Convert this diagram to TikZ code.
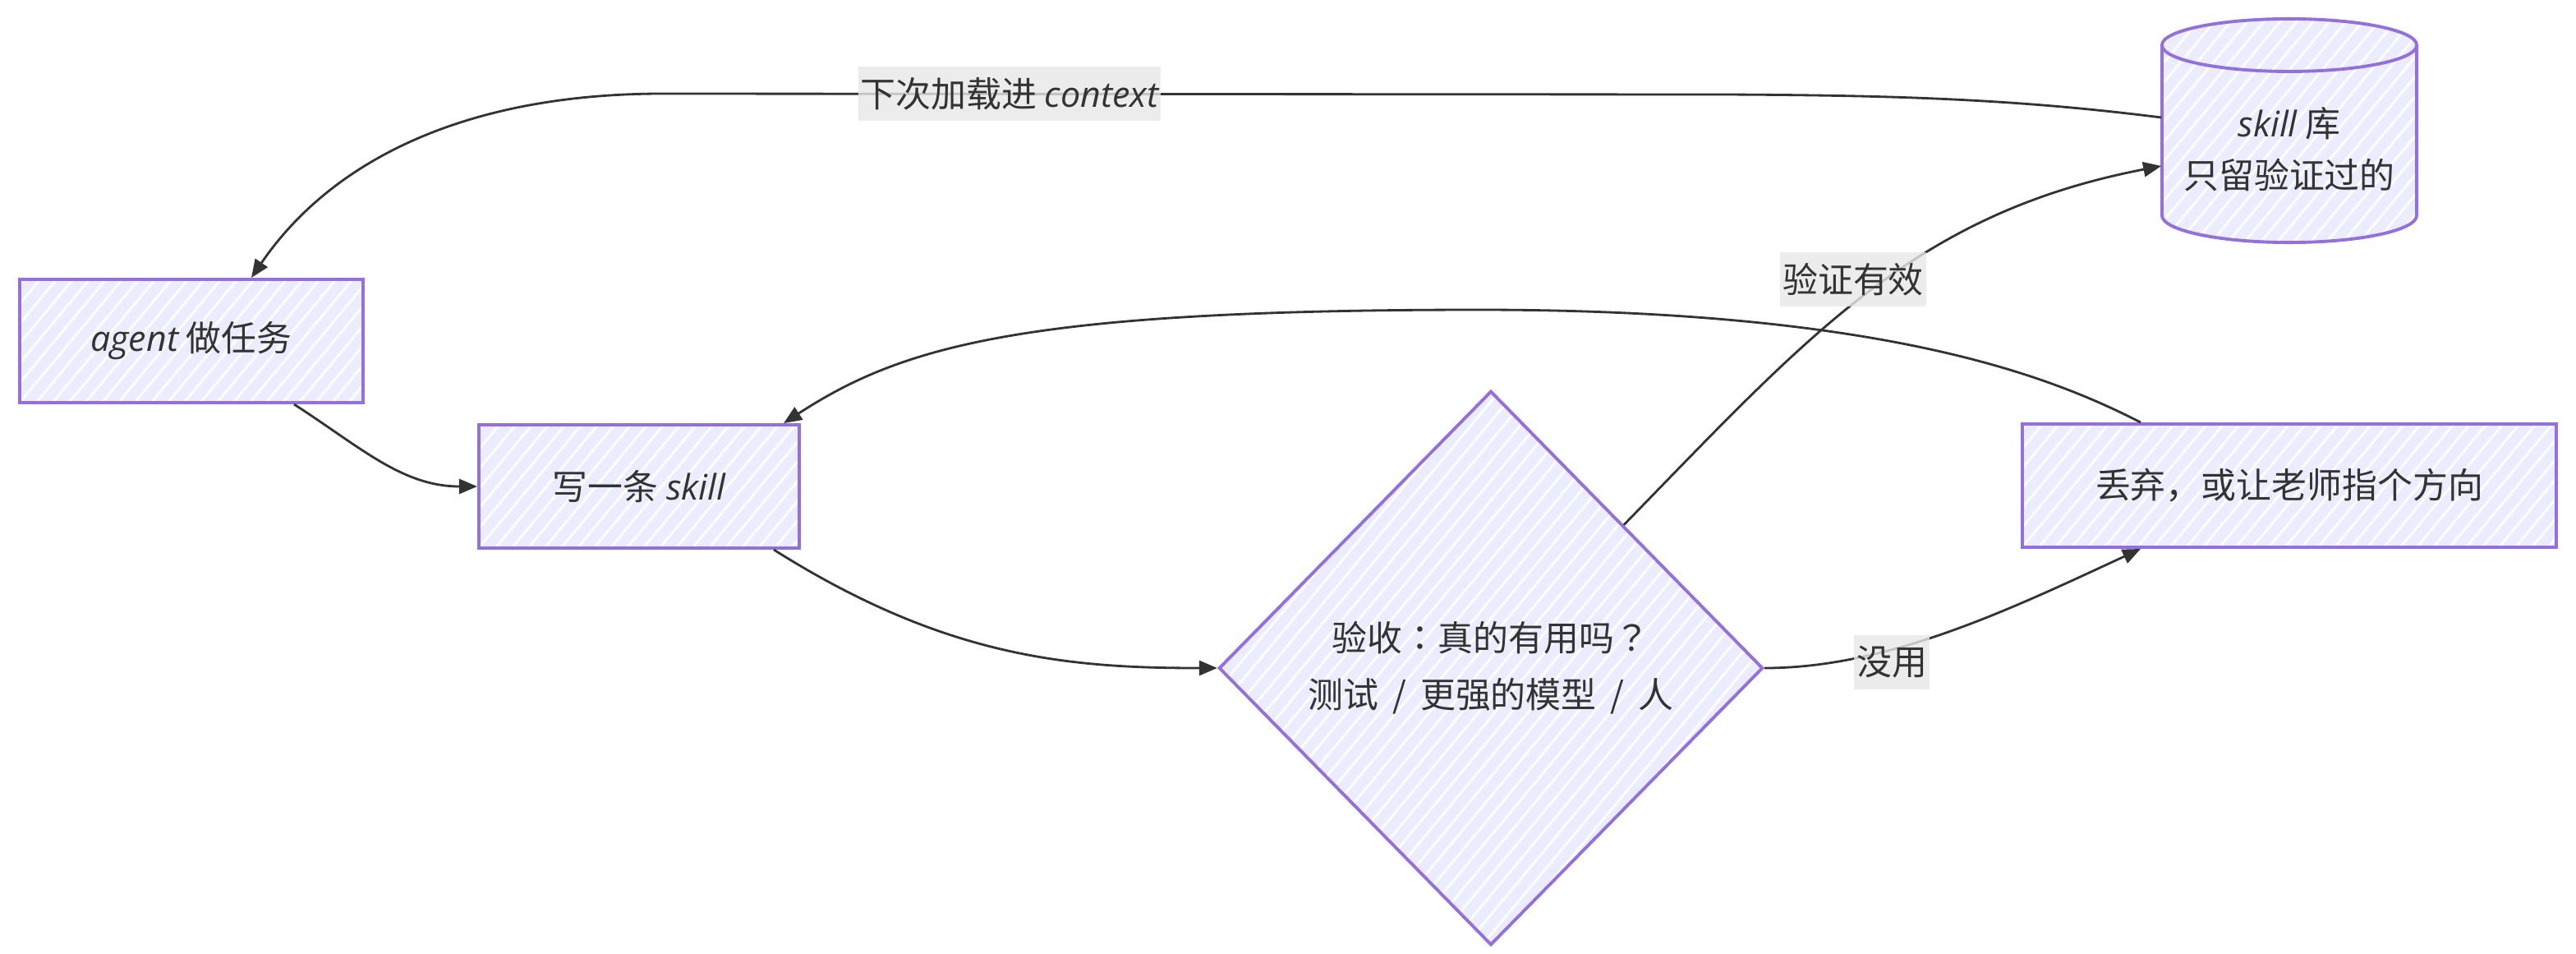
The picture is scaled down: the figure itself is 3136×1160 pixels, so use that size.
\documentclass[tikz,border=0pt]{standalone}
\usepackage{fontspec}
\setmainfont{Noto Sans CJK SC}
\newfontfamily\tcfont{Noto Sans CJK TC}
\newfontfamily\latfont{Open Sans}
\newcommand\lat[1]{{\latfont\itshape #1}}
\newcommand\tcp[1]{{\tcfont #1}}
\newcommand\sep{\hspace{0.17em} / \hspace{0.17em}}
\newcommand\mainsize{\fontsize{12.2pt}{18.5pt}\selectfont}
\usetikzlibrary{shapes.geometric,arrows.meta,calc}
\definecolor{nodefill}{HTML}{ECECFF}
\definecolor{nodeline}{HTML}{9370DB}
\definecolor{ink}{HTML}{333333}
\definecolor{lblbg}{HTML}{E8E8E8}
\tikzset{
  hatch/.style={path picture={
    \foreach \k in {-36,...,36}
      \draw[white,line width=0.9pt,opacity=0.85]
        ([xshift=\k*0.2cm]path picture bounding box.south west) -- ++(12cm,14.4cm);}},
  box/.style={draw=nodeline, line width=1.1pt, fill=nodefill, hatch, text=ink,
    font=\mainsize, inner sep=0pt, align=center},
  conn/.style={draw=ink, line width=0.8pt, -{Triangle[length=0.22cm,width=0.18cm]}},
  lbl/.style={fill=lblbg, fill opacity=0.8, text opacity=1, text=ink, font=\mainsize,
    inner xsep=0.03cm, inner ysep=0pt, minimum height=0.65cm},
}
\begin{document}
\begin{tikzpicture}[x=0.01cm,y=-0.01cm]
\fill[white] (0,0) rectangle (3136,1160);
\useasboundingbox (0,0) rectangle (3136,1160);

% cylinder (skill library)
\begin{scope}[shift={(2787,159)}, x=1cm, y=1cm]
  \path[draw=nodeline, line width=1.1pt, fill=nodefill, hatch]
    (-1.55,1.04) -- (-1.55,-1.03)
    arc[start angle=180, end angle=360, x radius=1.55, y radius=0.33]
    -- (1.55,1.04)
    arc[start angle=0, end angle=180, x radius=1.55, y radius=0.32] -- cycle;
  \draw[nodeline, line width=1.1pt]
    (-1.55,1.04) arc[start angle=180, end angle=360, x radius=1.55, y radius=0.32];
\end{scope}
\node[inner sep=0pt, minimum width=3.1cm, minimum height=2.72cm] (db) at (2787,159) {};
\node[text=ink, align=center, inner sep=0pt, font=\fontsize{12.2pt}{17.9pt}\selectfont]
  (dbtext) at (2787,182) {\lat{skill} 库\\只留验证过的};

% nodes
\node[box, minimum width=4.18cm, minimum height=1.5cm] (agent) at (233,415) {\lat{agent} 做任务};
\node[box, minimum width=3.9cm, minimum height=1.5cm] (skill) at (778,592) {写一条 \lat{skill}};
\node[box, diamond, minimum width=6.62cm, minimum height=6.74cm,
  font=\fontsize{12.2pt}{19.6pt}\selectfont] (dia) at (1815,813)
  {验收\tcp{：}真的有用吗\tcp{？}\\测试\sep 更强的模型\sep 人};
\node[box, minimum width=6.5cm, minimum height=1.5cm] (disc) at (2787,591) {丢弃，或让老师指个方向};

% connectors
\draw[conn] ($(db.west)+(0,-16)$) .. controls (2450,120) and (2300,116) .. (2100,115)
  -- (811,114) .. controls (560,113) and (400,200) .. ($(agent.north)+(73,0)$);
\draw[conn] ($(agent.south)+(125,0)$) .. controls (440,545) and (490,592) .. (skill.west);
\draw[conn] ($(skill.south)+(164,0)$) .. controls (1150,800) and (1300,813) .. (dia.west);
\draw[conn] ($(dia.north)!0.486!(dia.east)$) .. controls (2200,410) and (2330,260) .. ($(db.west)+(0,43)$);
\draw[conn] (dia.east) .. controls (2300,813) and (2450,740) .. ($(disc.south)+(-181,0)$);
\draw[conn] ($(disc.north)+(-181,0)$) .. controls (2500,460) and (2300,377) .. (1800,377)
  .. controls (1250,377) and (1100,420) .. ($(skill.north)+(176,0)$);

% edge labels
\node[lbl] (l1) at (1229,114) {下次加载进 \lat{context}};
\node[lbl] (l2) at (2256,340) {验证有效};
\node[lbl] (l3) at (2303,806) {没用};
\end{tikzpicture}
\end{document}
